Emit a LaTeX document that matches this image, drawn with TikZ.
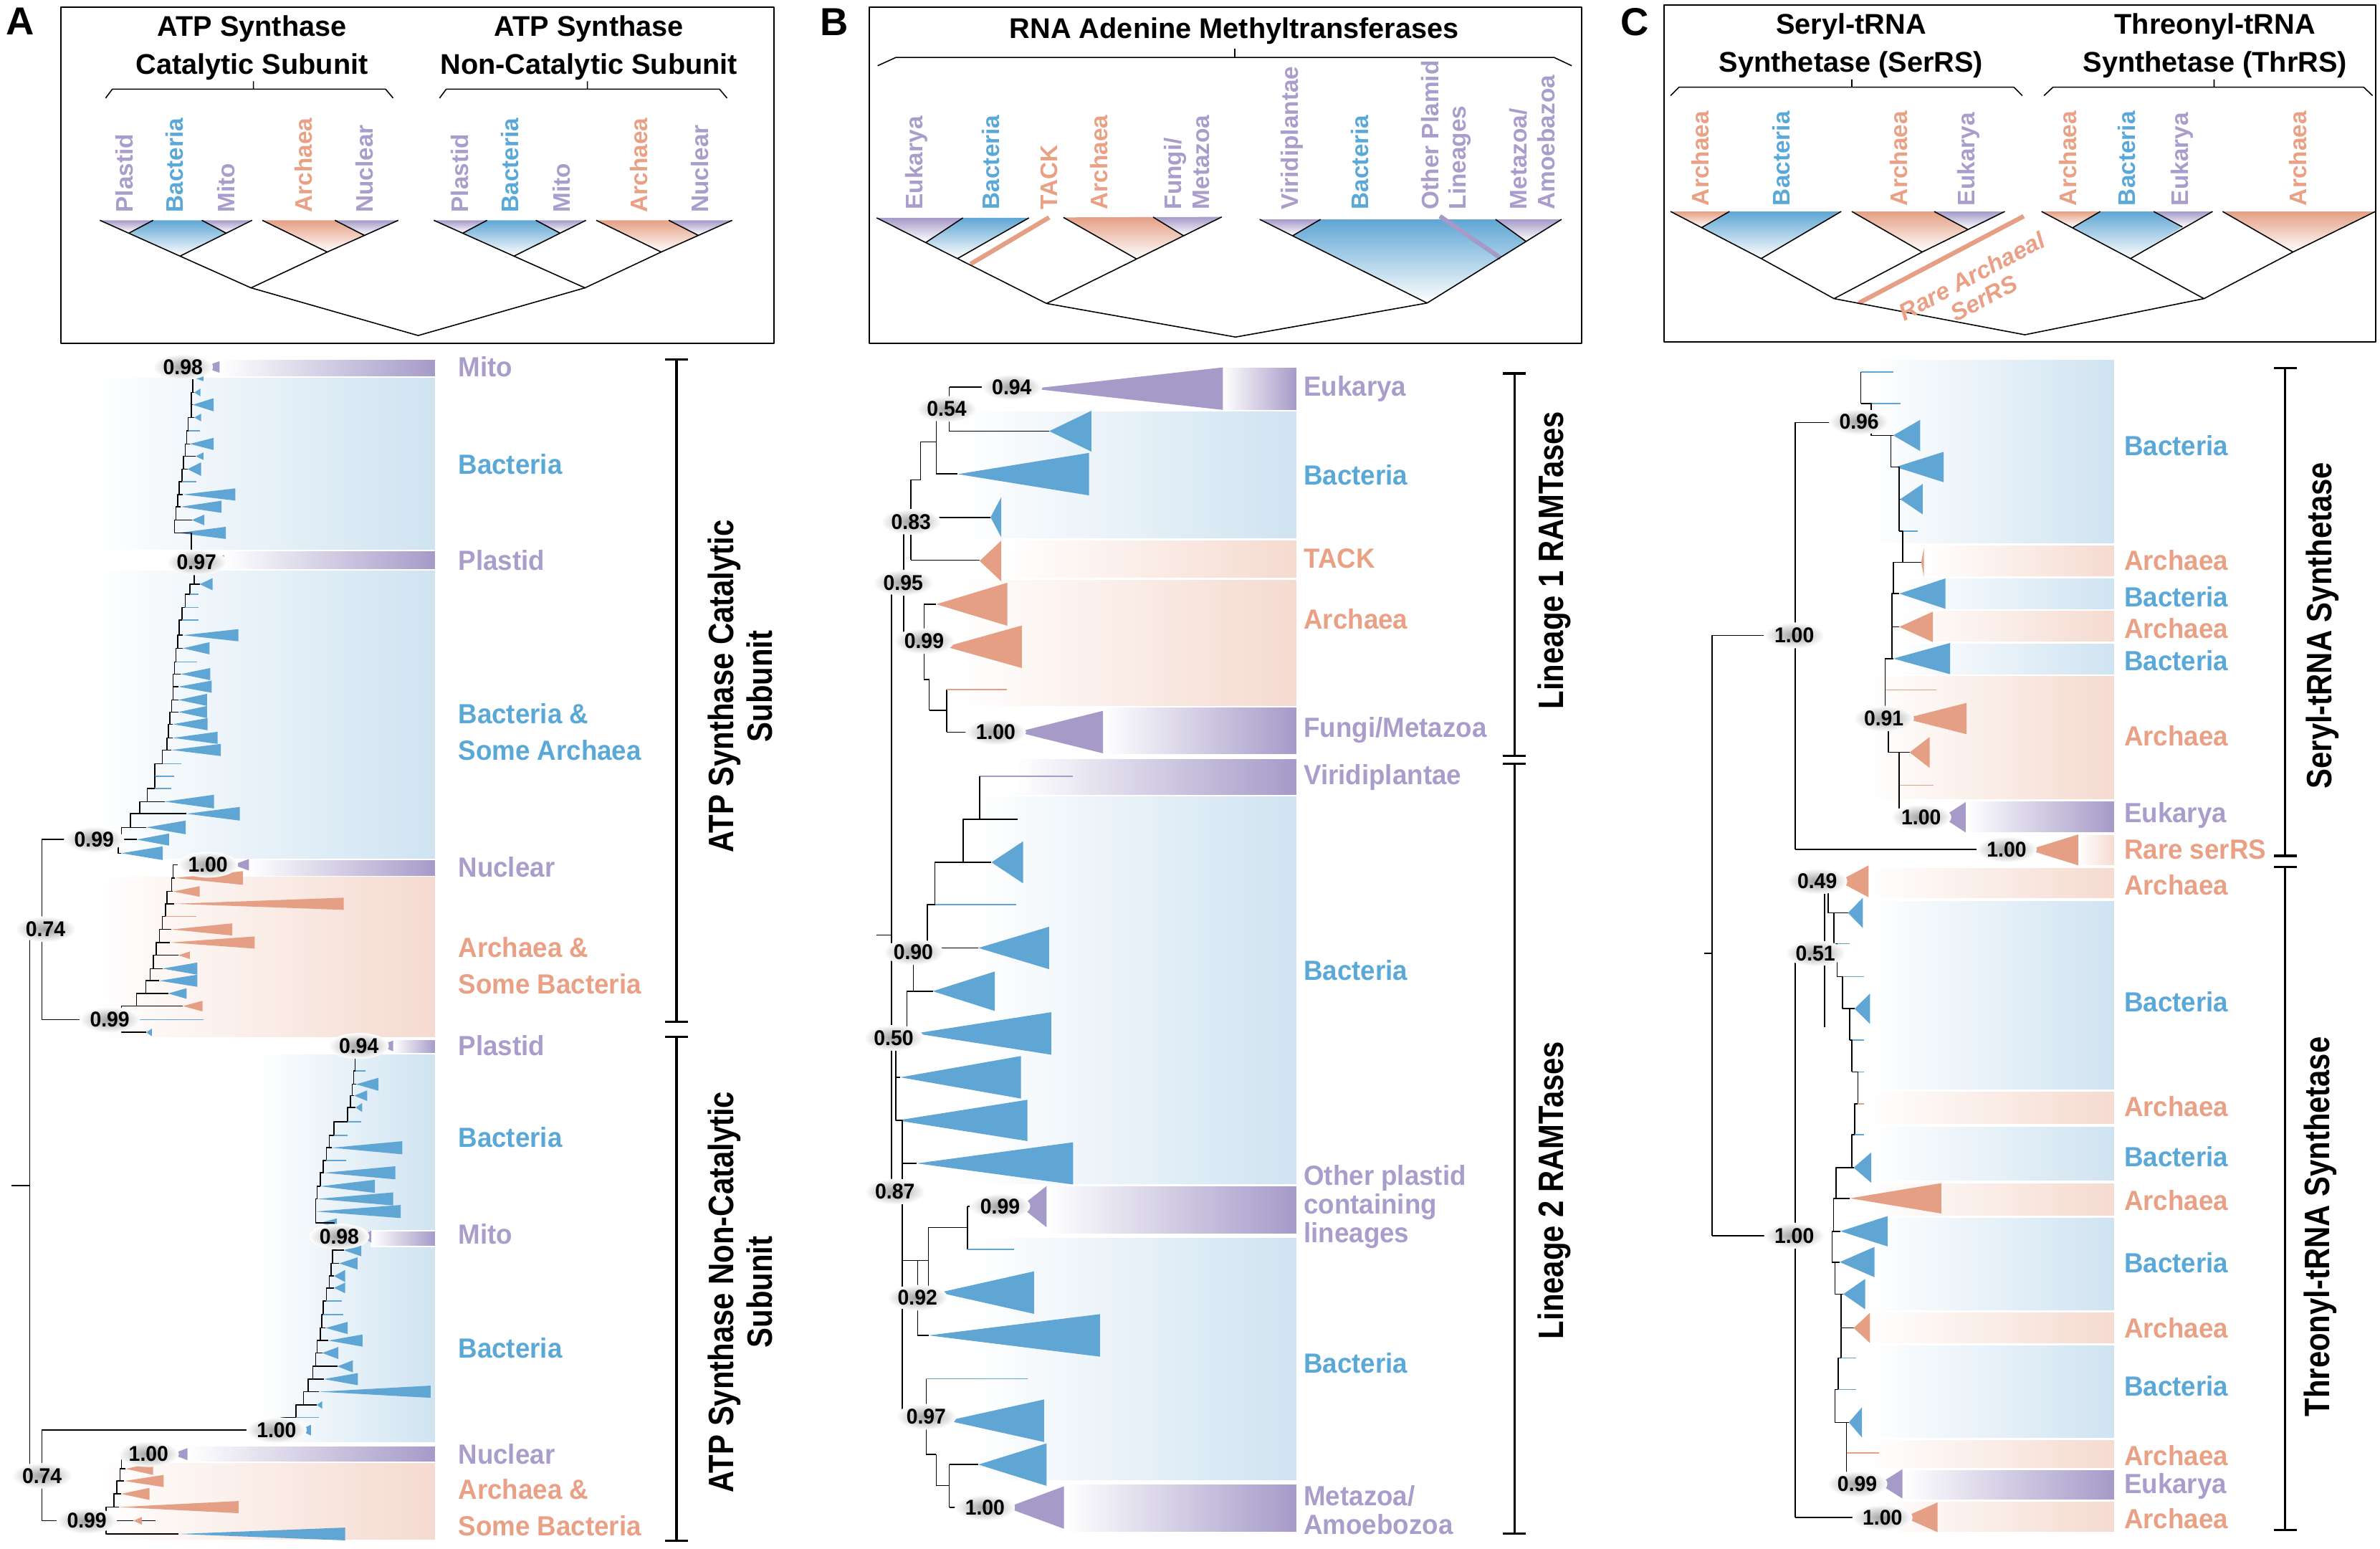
\documentclass[tikz,border=0pt]{standalone}
\usepackage{fontspec}
\setmainfont{Liberation Sans}
\newfontfamily\labfont[FakeStretch=0.95]{Liberation Sans}
\newfontfamily\titlefont[FakeStretch=0.85]{Liberation Sans}
\usetikzlibrary{shapes.geometric}
\definecolor{triB}{HTML}{5FA6D4}
\definecolor{triA}{HTML}{E59F84}
\definecolor{triP}{HTML}{A59AC8}
\definecolor{bandB}{HTML}{CFE3F1}
\definecolor{bandA}{HTML}{F5DACF}
\definecolor{txtB}{HTML}{5AA8D8}
\definecolor{txtA}{HTML}{E9A084}
\definecolor{txtP}{HTML}{A99DCC}
\begin{document}
\begin{tikzpicture}[x=0.02118cm, y=-0.02118cm, line join=round,
  br/.style={line width=0.45pt},
  brk/.style={line width=0.9pt},
  bs/.style={ellipse, inner sep=0.6pt, inner color=black!38, outer color=white, font=\labfont\bfseries\fontsize{8.5}{9}\selectfont},
  lab/.style={anchor=west, align=left, inner sep=1pt, font=\labfont\bfseries\fontsize{11}{14.4}\selectfont},
  labt/.style={lab, font=\labfont\bfseries\fontsize{11}{11.4}\selectfont},
  vlab/.style={rotate=90, anchor=west, align=left, inner sep=1pt, font=\bfseries\fontsize{9.5}{11}\selectfont},
  head/.style={align=center, font=\bfseries\fontsize{11.3}{15}\selectfont},
  ttl/.style={rotate=90, align=center, font=\titlefont\bfseries\fontsize{14}{15.3}\selectfont},
  panel/.style={font=\bfseries\fontsize{15.5}{16}\selectfont}]
\useasboundingbox (0,0) rectangle (1568,1020);

\node[panel] (pA) at (13.4,14.2) {A};
\node[panel] (pB) at (549.8,14.5) {B};
\node[panel] (pC) at (1077,14.5) {C};
\draw[line width=0.6pt] (40,4.7) rectangle (510,226) (572.6,4.7) rectangle (1042.2,226.3) (1096.5,3.5) rectangle (1565,225);

\node[head] (hA1) at (166,31.5) {ATP Synthase\\Catalytic Subunit};
\node[head] (hA2) at (388,31.5) {ATP Synthase\\Non-Catalytic Subunit};
\node[head] (hB) at (813.2,20.5) {RNA Adenine Methyltransferases};
\node[head] (hC1) at (1219.5,30) {Seryl-tRNA\\Synthetase (SerRS)};
\node[head] (hC2) at (1459.3,30) {Threonyl-tRNA\\Synthetase (ThrRS)};

\foreach \dx in {0,220}{
\begin{scope}[shift={(\dx,0)}]
  \shade[top color=triP, bottom color=white] (65.8,145.1) -- (100.9,145.1) -- (85.2,153.4) -- cycle;
  \shade[top color=triB, bottom color=white] (100.9,145.1) -- (133,145.1) -- (148.7,153.4) -- (118.6,168.7) -- (85.2,153.4) -- cycle;
  \shade[top color=triP, bottom color=white] (133,145.1) -- (166.1,145.1) -- (148.7,153.4) -- cycle;
  \shade[top color=triA, bottom color=white] (172.8,145.1) -- (220.6,145.1) -- (240,155) -- (215.6,166) -- cycle;
  \shade[top color=triP, bottom color=white] (220.6,145.1) -- (262.4,145.1) -- (240,155) -- cycle;
  \draw[br] (65.8,145.1) -- (118.6,168.7) -- (166.1,145.1) (100.9,145.1) -- (85.2,153.4) (133,145.1) -- (148.7,153.4)
    (172.8,145.1) -- (215.6,166) -- (262.4,145.1) (220.6,145.1) -- (240,155)
    (118.6,168.7) -- (165.4,189.6) -- (215.6,166);
  \draw[br] (69.6,64.6) -- (74,58.7) -- (254,58.7) -- (259,64.6) (167,53.5) -- (167,58.7);
\end{scope}}
\draw[br] (165.4,189.6) -- (275.5,221) -- (385.4,189.6);
\foreach \x/\t/\c [count=\i] in {82/Plastid/txtP, 115/Bacteria/txtB, 149/Mito/txtP, 200/Archaea/txtA, 240/Nuclear/txtP,
    303/Plastid/txtP, 336/Bacteria/txtB, 370/Mito/txtP, 421/Archaea/txtA, 461/Nuclear/txtP}
  \node[vlab, text=\c] (sA\i) at (\x,142) {\t};

\shade[top color=triP, bottom color=white] (577.6,143.5) -- (634.4,143.5) -- (610.3,159.5) -- cycle;
\shade[top color=triB, bottom color=white] (634.4,143.5) -- (677.9,143.5) -- (631,170.2) -- (610.3,159.5) -- cycle;
\shade[top color=triA, bottom color=white] (700.6,143.2) -- (759.7,143) -- (779.8,155.3) -- (748.7,170.5) -- cycle;
\shade[top color=triP, bottom color=white] (759.7,143) -- (804.9,142.9) -- (779.8,155.3) -- cycle;
\shade[top color=triP, bottom color=white] (829.9,144.5) -- (870,144.5) -- (851.6,155.3) -- cycle;
\shade[top color=triB, middle color=triB!60, bottom color=white] (870,144.5) -- (985.3,144.5) -- (1005.4,159) -- (940.2,199.6) -- (851.6,155.3) -- cycle;
\shade[top color=triP, bottom color=white] (985.3,144.5) -- (1028.8,144.5) -- (1005.4,159) -- cycle;
\draw[line width=1.8pt, triA] (691.2,143.2) -- (639.4,173.9);
\draw[line width=1.8pt, triP] (948.6,142.4) -- (988.7,170);
\draw[br] (577.6,143.5) -- (689.5,199.9) -- (804.9,142.9) (634.4,143.5) -- (610.3,159.5) (677.9,143.5) -- (631,170.2)
  (700.6,143.2) -- (748.7,170.5) (759.7,143) -- (779.8,155.3)
  (829.9,144.5) -- (940.2,199.6) -- (1028.8,144.5) (870,144.5) -- (851.6,155.3) (985.3,144.5) -- (1005.4,159)
  (689.5,199.9) -- (814,222) -- (940.2,199.6);
\draw[br] (578.2,43.3) -- (590.3,37.8) -- (1023.8,37.8) -- (1035.5,43.3) (813.5,32) -- (813.5,37.8);
\foreach \x/\t/\c [count=\i] in {603.6/Eukarya/txtP, 652.8/Bacteria/txtB, 691.2/TACK/txtA, 724/Archaea/txtA,
    851/Viridiplantae/txtP, 896/Bacteria/txtB}
  \node[vlab, text=\c] (sB\i) at (\x,140) {\t};
\node[vlab, text=txtP] (sBf) at (782,140) {Fungi/\\Metazoa};
\node[vlab, text=txtP] (sBo) at (952.8,140) {Other Plamid\\Lineages};
\node[vlab, text=txtP] (sBm) at (1009.6,140) {Metazoa/\\Amoebazoa};

\shade[top color=triA, bottom color=white] (1100.6,139.3) -- (1139.4,139.3) -- (1121.1,149.9) -- cycle;
\shade[top color=triB, bottom color=white] (1139.4,139.3) -- (1213,139.3) -- (1160.3,170.3) -- (1121.1,149.9) -- cycle;
\shade[top color=triA, bottom color=white] (1220,139.3) -- (1274.3,139.3) -- (1296.2,151) -- (1266.4,166) -- cycle;
\shade[top color=triP, bottom color=white] (1274.3,139.3) -- (1320.8,139.3) -- (1296.2,151) -- cycle;
\shade[top color=triA, bottom color=white] (1345,139.3) -- (1383.7,139.3) -- (1365.8,149.8) -- cycle;
\shade[top color=triB, bottom color=white] (1383.7,139.3) -- (1418.9,139.3) -- (1437.8,149.5) -- (1403.6,170.3) -- (1365.8,149.8) -- cycle;
\shade[top color=triP, bottom color=white] (1418.9,139.3) -- (1457.7,139.3) -- (1437.8,149.5) -- cycle;
\shade[top color=triA, bottom color=white] (1464.3,139.3) -- (1565,139.3) -- (1510.7,166) -- cycle;
\draw[line width=1.8pt, triA] (1333.3,142.4) -- (1224.6,199.6);
\draw[br] (1100.6,139.3) -- (1160.3,170.3) -- (1213,139.3) (1139.4,139.3) -- (1121.1,149.9)
  (1220,139.3) -- (1266.4,166) -- (1320.8,139.3) (1274.3,139.3) -- (1296.2,151)
  (1160.3,170.3) -- (1208.3,196.7) -- (1266.4,166)
  (1345,139.3) -- (1403.6,170.3) -- (1457.7,139.3) (1383.7,139.3) -- (1365.8,149.8) (1418.9,139.3) -- (1437.8,149.5)
  (1464.3,139.3) -- (1510.7,166) -- (1565,139.3)
  (1403.6,170.3) -- (1452,196.7) -- (1510.7,166)
  (1208.3,196.7) -- (1334,220.5) -- (1452,196.7);
\draw[br] (1100.6,63) -- (1106.2,57.4) -- (1326.7,57.4) -- (1332.4,63) (1220,52.3) -- (1220,57.4)
  (1346.6,63) -- (1352.6,57.4) -- (1557.2,57.4) -- (1563.1,63) (1458.7,52.3) -- (1458.7,57.4);
\foreach \x/\t/\c [count=\i] in {1120.2/Archaea/txtA, 1173.5/Bacteria/txtB, 1251.1/Archaea/txtA, 1296.9/Eukarya/txtP,
    1362.5/Archaea/txtA, 1401.3/Bacteria/txtB, 1437.8/Eukarya/txtP, 1514/Archaea/txtA}
  \node[vlab, text=\c] (sC\i) at (\x,137.5) {\t};
\node[rotate=28, align=center, text=txtA, font=\bfseries\itshape\fontsize{9.5}{10}\selectfont] (rare) at (1303,189) {Rare Archaeal\\SerRS};

\foreach \xa/\ya/\xb/\yb/\c in {144.6/236.8/287/248.2/triP, 60/248.2/287/362.6/bandB, 147.6/362.6/287/375.2/triP,
    60/375.2/287/566.2/bandB, 164/566.2/287/577.2/triP, 60/577.2/287/683.5/bandA, 259/684.5/287/694.2/triP,
    170/694.2/287/950.5/bandB, 244.6/810.5/287/821/triP, 123.5/952.5/287/963.2/triP, 60/963.2/287/1014.5/bandA,
    805.7/242/854.3/270.4/triP, 630/270.4/854.3/355/bandB, 660/355.8/854.3/380.8/bandA, 630/381.6/854.3/465.4/bandA,
    726.7/465.6/854.3/497/triP, 669/499.8/854.3/523.8/triP, 640/524.2/854.3/780.6/bandB, 689.5/780.8/854.3/813/triP,
    640/815.2/854.3/975.2/bandB, 701/977.6/854.3/1009.6/triP,
    1230/236.7/1393.3/358.3/bandB, 1267/358.8/1393.3/380.2/bandA, 1250/380.6/1393.3/401.6/bandB,
    1250/402/1393.3/423.2/bandA, 1250/423.6/1393.3/444.6/bandB, 1230/445/1393.3/527/bandA, 1295/527.6/1393.3/548.8/triP,
    1369.3/549.8/1393.3/570.4/bandA, 1230/571.2/1393.3/591.8/bandA, 1230/593/1393.3/718/bandB,
    1230/718.6/1393.3/740.8/bandA, 1230/741.6/1393.3/778/bandB, 1230/779.2/1393.3/801/bandA,
    1230/801.8/1393.3/863.6/bandB, 1230/864.2/1393.3/885/bandA, 1230/885.8/1393.3/947.6/bandB,
    1230/948.2/1393.3/967.4/bandA, 1253.4/967.8/1393.3/988/triP, 1230/988.8/1393.3/1009.6/bandA}
  \shadedraw[draw=white, line width=0.5pt, left color=white, right color=\c] (\xa,\ya) rectangle (\xb,\yb);

\foreach \px/\y/\ax/\bx/\h/\c [remember=\px as \lpx (initially 126), remember=\y as \ly (initially 241.7)] in {
    126/241.7/134/144.6/3.8/triP, 126/249/128/134/2/triB, 127/258.5/128/132/2.5/triB, 126/266.6/127/140.7/4.3/triB,
    126/275/128/132.5/2.5/triB, 124/283.7/124/131.6/0/triB, 123/292.4/125/140.7/4/triB, 122/300.5/129/134/2.5/triB,
    121/309/123.5/132.5/4.5/triB, 120/317.3/120/129.5/0/triB, 118/325.7/120.5/155/4/triB, 117/333.8/119/146/4/triB,
    116/342.5/126.5/134.6/3.5/triB, 115/351/117.5/148.8/4/triB, 126/369/140/147.6/3.5/triP, 128/384.8/131.6/140/4/triB,
    125/391.3/125/131/0/triB, 122/400.2/122/131/0/triB, 120/408.3/120/131/0/triB, 118/418.4/120.5/157/4/triB,
    117/427/120.5/138/4/triB, 116/436/116/130/0/triB, 115/444/119/138.5/4/triB, 114/452.3/117.5/139.5/4/triB,
    114/461/117.5/136.4/4/triB, 113/469/117.5/136.4/4/triB, 112/477/113.9/136.7/4/triB, 111/486/113.9/143.4/4/triB,
    110/494/113/145.5/4/triB, 107/503/107/119.6/0/triB, 102/511.3/102/114.5/0/triB, 102/519.4/102/113/0/triB,
    97/528/108.4/141/4.5/triB, 92/536/122.9/158/4.5/triB, 86/545/96.4/122.3/4.5/triB, 80/553/90/111.4/4/triB,
    78/562/80/107.2/4.5/triB}{
  \draw[br] (\lpx,\ly) -| (\px,\y) -- (\ax,\y);
  \ifdim\h pt>0pt\relax \fill[\c] (\ax,\y) -- (\bx,\y-\h) -- (\bx,\y+\h) -- cycle;
  \else \draw[br,\c] (\ax,\y) -- (\bx,\y); \fi}
\foreach \px/\y/\ax/\bx/\h/\c [remember=\px as \lpx (initially 120), remember=\y as \ly (initially 569.6)] in {
    120/569.6/153.6/164/3.8/triP, 114/578.3/115/160/4.5/triA, 113/587.2/114/131.6/3.5/triA, 110/595.3/114.5/226.5/4/triA,
    109/603.6/109/129.5/0/triA, 107/612.2/113/153/4/triA, 105/620.8/112/167.8/4/triA, 103/629.2/117.5/125/2.5/triA,
    101/638/107/130/4/triB, 99/646/105/130/4/triB, 96/654.4/110.8/122.9/3.5/triB, 90/662.7/120.5/133.4/3.5/triA,
    80/671.7/80/134/0/triB, 80/680/96.4/100/2.5/triB}{
  \draw[br] (\lpx,\ly) -| (\px,\y) -- (\ax,\y);
  \ifdim\h pt>0pt\relax \fill[\c] (\ax,\y) -- (\bx,\y-\h) -- (\bx,\y+\h) -- cycle;
  \else \draw[br,\c] (\ax,\y) -- (\bx,\y); \fi}
\foreach \px/\y/\ax/\bx/\h/\c [remember=\px as \lpx (initially 235), remember=\y as \ly (initially 688.9)] in {
    235/688.9/250/259/3.5/triP, 234/705.4/234/241/0/triB, 233/714.2/234.6/249.4/4.3/triB, 232/721.7/233.4/241.9/3.5/triB,
    231/729.5/234.3/238.6/3/triB, 229/739/229/238/0/triB, 220/748/220/229/0/triB, 217/756/218.4/265/4.3/triB,
    215/764.4/215/228/0/triB, 213/772.5/213.3/260.5/4.3/triB, 211/781.4/211/247/4.3/triB, 209/789.7/209/259/4.3/triB,
    208/798/208/264/4.3/triB, 208/805.5/211/222/3/triB, 220/814.5/238/244.6/4/triP, 220/823.5/226.5/238/4/triB,
    219/832.2/223.5/235.5/4/triB, 218/840.5/220/227.4/4/triB, 217/848.3/220/227.4/3.5/triB, 215/857/215/225/0/triB,
    213/866/213/226/0/triB, 212/874.7/214.5/229/4/triB, 211/883/216.3/238.9/4/triB, 209/891.2/212.3/222.9/4/triB,
    208/900/222.3/232.5/4/triB, 206/908.4/213.3/235.8/4/triB, 203/916.7/210.2/283.7/4/triB, 200/925.4/208.7/212.3/2.5/triB,
    195/933.7/195/210.2/0/triB, 185/942/197.3/204.8/3.5/triB}{
  \draw[br] (\lpx,\ly) -| (\px,\y) -- (\ax,\y);
  \ifdim\h pt>0pt\relax \fill[\c] (\ax,\y) -- (\bx,\y-\h) -- (\bx,\y+\h) -- cycle;
  \else \draw[br,\c] (\ax,\y) -- (\bx,\y); \fi}
\foreach \px/\y/\ax/\bx/\h/\c [remember=\px as \lpx (initially 82), remember=\y as \ly (initially 957.8)] in {
    82/957.8/113/123.5/4/triP, 80/967.5/82.8/100.9/4/triA, 79/975.5/81.9/107.8/4/triA, 77/984/79.8/98.5/4/triA,
    75/992.7/78.3/157.2/4/triA, 70/1001.7/88/93.4/2.5/triA, 70/1010.4/117.5/227.4/4.2/triB}{
  \draw[br] (\lpx,\ly) -| (\px,\y) -- (\ax,\y);
  \ifdim\h pt>0pt\relax \fill[\c] (\ax,\y) -- (\bx,\y-\h) -- (\bx,\y+\h) -- cycle;
  \else \draw[br,\c] (\ax,\y) -- (\bx,\y); \fi}
\draw[br] (7.5,781) -- (19.6,781) (27.7,612) -- (19.6,612) -- (19.6,972) -- (27.7,972)
  (80,553) -- (27.7,553) -- (27.7,671.7) -- (80,671.7)
  (185,942) -- (27.7,942) -- (27.7,1001.7) -- (70,1001.7) (93.4,1001.7) -- (102.4,1001.7);

\foreach \px/\y/\ax/\bx/\h/\c [remember=\px as \lpx (initially 645.4), remember=\y as \ly (initially 511.2)] in {
    645.4/511.2/645.4/706.7/0/triP, 645.4/539.6/645.4/670.3/0/black, 634.6/568/653.2/674/13.8/triB,
    616/595.7/616/669.5/0/triB, 611/624.4/644.6/691.2/14/triB, 601.7/652.9/614.5/655.4/13/triB,
    597.4/680.7/603.1/692.6/14/triB, 590.2/709.6/593.1/672.6/14/triB, 590.2/738/591.1/676.9/13.6/triB,
    594.5/766.3/604/707/13.9/triB}{
  \draw[br] (\lpx,\ly) -| (\px,\y) -- (\ax,\y);
  \ifdim\h pt>0pt\relax \fill[\c] (\ax,\y) -- (\bx,\y-\h) -- (\bx,\y+\h) -- cycle;
  \else \draw[br,\c] (\ax,\y) -- (\bx,\y); \fi}
\foreach \xa/\ya/\xb/\yb in {625.4/255/680.3/255, 625.4/255/625.4/284, 625.4/284/691.2/284, 616.8/269.4/625.4/269.4,
    616.8/269.4/616.8/312.2, 616.8/312.2/631/312.2, 606.5/291/616.8/291, 606.5/291/606.5/316, 600.2/316/606.5/316,
    600.2/316/600.2/368.9, 600.2/341/652.6/341, 600.2/368.9/645.4/368.9, 595.4/343/600.2/343, 595.4/343/595.4/417.7,
    595.4/417.7/608.8/417.7, 608.8/397.9/608.8/447.5, 608.8/397.9/616.8/397.9, 608.8/426/623.1/426,
    608.8/447.5/612.2/447.5, 612.2/447.5/612.2/467.8, 612.2/467.8/623.7/467.8, 623.7/454.2/623.7/482.2,
    623.7/482.2/670.3/482.2, 587.3/390.6/595.4/390.6, 587.3/390.6/587.3/780, 577.3/616/587.3/616, 587.3/780/594.5/780,
    594.5/766.3/594.5/933, 594.5/830.2/611.7/830.2, 604.5/830.2/604.5/879.6, 611.7/808.5/611.7/851.4,
    611.7/808.5/637.4/808.5, 637.4/794.5/637.4/823, 637.4/794.5/672.3/794.5, 611.7/851.4/618.8/851.4,
    604.5/879.6/611.7/879.6, 594.5/933/610.2/933, 610.2/908.1/610.2/958, 610.2/935.8/624.5/935.8,
    610.2/958/616.8/958, 616.8/958/616.8/978.5, 616.8/978.5/625.4/978.5, 625.4/964.7/625.4/993,
    625.4/964.7/644.6/964.7, 625.4/993/663.2/993,
    1128/418.5/1128/813.9, 1122.8/627.9/1128/627.9, 1128/418.5/1182.7/418.5, 1128/813.9/1182.7/813.9,
    1182.7/278.3/1182.7/559.5, 1182.7/278.3/1226/278.3, 1182.7/559.5/1336.4/559.5,
    1182.7/627.9/1182.7/999.6, 1182.7/627.9/1202.1/627.9, 1202.1/580.5/1202.1/676.5, 1182.7/999.6/1254.4/999.6}
  \draw[br] (\xa,\ya) -- (\xb,\yb);
\draw[br,triA] (623.7,454.2) -- (663.2,454.2);
\draw[br,triB] (637.4,823) -- (668,823) (610.2,908.1) -- (676.9,908.1);
\foreach \ax/\y/\bx/\h/\c in {680.3/256/805.7/14/triP, 691.2/284/719/13.4/triB, 631/312.3/717.5/14/triB,
    652.6/340.7/659.7/13.3/triB, 645.4/369.5/659.7/13.5/triA, 616.8/398/663.7/14.2/triA, 623.1/426/673.2/14/triA,
    670.3/482.2/726.7/14/triP, 672.3/794.8/689.5/13.6/triP, 618.8/851.4/681.2/14/triB, 611.7/879.6/724.7/14/triB,
    624.5/935.8/687.8/14/triB, 644.6/964.7/689.5/14/triB, 663.2/993/701/14/triP,
    1336.4/559.8/1369.3/10.2/triA, 1254.4/999.4/1276.5/9.8/triA}
  \fill[\c] (\ax,\y) -- (\bx,\y-\h) -- (\bx,\y+\h) -- cycle;

\foreach \px/\y/\ax/\bx/\h/\c [remember=\px as \lpx (initially 1226), remember=\y as \ly (initially 244.9)] in {
    1226/244.9/1226/1247.3/0/triB, 1226/265.8/1226/1252/0/triB, 1232.8/286.8/1247.3/1265.1/10.3/triB,
    1245.8/307.6/1248.9/1280.5/10/triB, 1251.3/328.8/1251.9/1266.7/10/triB, 1251.3/349.9/1251.3/1263.6/0/triB,
    1253.5/370.4/1265.7/1267.5/9.5/triA, 1247.3/391/1251.3/1281.7/10/triB, 1246.4/412.9/1251.3/1273.4/10/triA,
    1246.4/433.8/1247.3/1284.8/10.3/triB, 1242/454.5/1242/1275.6/0/triA, 1242/473.3/1255/1295.6/10.3/triA,
    1244.2/495.6/1258.1/1271.3/10.2/triA, 1251.3/517.2/1251.3/1274/0/triA, 1251.3/538.3/1279.6/1295/10/triP}{
  \draw[br] (\lpx,\ly) -| (\px,\y) -- (\ax,\y);
  \ifdim\h pt>0pt\relax \fill[\c] (\ax,\y) -- (\bx,\y-\h) -- (\bx,\y+\h) -- cycle;
  \else \draw[br,\c] (\ax,\y) -- (\bx,\y); \fi}
\foreach \px/\y/\ax/\bx/\h/\c [remember=\px as \lpx (initially 1202.1), remember=\y as \ly (initially 580.5)] in {
    1202.1/580.5/1211.3/1231/10.5/triA, 1204.3/601.3/1217.5/1227.3/10/triB, 1208.2/621.6/1208.2/1218.7/0/triB,
    1210.4/643.3/1210.4/1228/0/triB, 1214/664.4/1221.8/1232/10/triB, 1218.7/685.2/1218.7/1228/0/triB,
    1220/706/1220/1228/0/triB, 1224/727.1/1224/1228/0/triA, 1222/747.4/1222/1228/0/triB,
    1220/769.1/1221.2/1232.8/10/triB, 1209.5/789.3/1218.7/1279/10/triA, 1208/811/1212.5/1243.6/10/triB,
    1207/831.3/1212/1235/10/triB, 1209/852.4/1214.4/1228.8/10/triB, 1213/874.7/1221.2/1232/10/triA,
    1213/894.4/1213/1222.7/0/triB, 1211/915.2/1211/1222.7/0/triB, 1209/936.9/1218.1/1226.7/10/triB,
    1216.5/957.1/1216.5/1238/0/triA, 1216.5/977.4/1238/1253.4/9.7/triP}{
  \draw[br] (\lpx,\ly) -| (\px,\y) -- (\ax,\y);
  \ifdim\h pt>0pt\relax \fill[\c] (\ax,\y) -- (\bx,\y-\h) -- (\bx,\y+\h) -- cycle;
  \else \draw[br,\c] (\ax,\y) -- (\bx,\y); \fi}

\foreach \x/\y/\v [count=\i] in {120.5/241.7/0.98, 129.5/370.4/0.97, 62/553/0.99, 137/569.6/1.00, 30/612/0.74,
    72.3/671.7/0.99, 236.4/688.9/0.94, 223.5/814.5/0.98, 182.2/942/1.00, 97.9/957.8/1.00, 27.7/972/0.74,
    57.2/1001.7/0.99, 666.6/255/0.94, 623.7/269.4/0.54, 600.2/343.7/0.83, 595/383.8/0.95, 608.8/422.3/0.99,
    656/482.2/1.00, 601.7/627.1/0.90, 588.8/683.6/0.50, 589.6/784.9/0.87, 658.9/794.5/0.99, 604.5/854.8/0.92,
    610.2/933.2/0.97, 648.9/993/1.00, 1224.8/277.8/0.96, 1182.1/418.5/1.00, 1241.1/473.3/0.91, 1265.7/538.3/1.00,
    1322/559.5/1.00, 1197.2/580.5/0.49, 1196/627.9/0.51, 1182.1/813.9/1.00, 1223.6/977.4/0.99, 1240.2/999.6/1.00}
  \node[bs] (bs\i) at (\x,\y) {\v};

\foreach \y/\t/\c [count=\i] in {241.7/Mito/txtP, 306/Bacteria/txtB, 369/Plastid/txtP, 571/Nuclear/txtP,
    688.5/Plastid/txtP, 749/Bacteria/txtB, 813/Mito/txtP, 888/Bacteria/txtB, 958/Nuclear/txtP}
  \node[lab, text=\c] (lA\i) at (300,\y) {\t};
\node[lab, text=txtB] (lAba) at (300,482) {Bacteria \&\\Some Archaea};
\node[lab, text=txtA] (lAab1) at (300,636) {Archaea \&\\Some Bacteria};
\node[lab, text=txtA] (lAab2) at (300,993) {Archaea \&\\Some Bacteria};
\foreach \y/\t/\c [count=\i] in {256/Eukarya/txtP, 313/Bacteria/txtB, 368/TACK/txtA, 408/Archaea/txtA,
    512/Viridiplantae/txtP, 639/Bacteria/txtB, 898/Bacteria/txtB}
  \node[lab, text=\c] (lB\i) at (857,\y) {\t};
\node[lab, text=txtP] (lBfm) at (857,481) {Fungi/Metazoa};
\node[labt, text=txtP] (lBop) at (857,795) {Other plastid\\containing\\lineages};
\node[labt, text=txtP] (lBma) at (857,994.5) {Metazoa/\\Amoebozoa};
\foreach \y/\t/\c [count=\i] in {293.5/Bacteria/txtB, 369/Archaea/txtA, 393/Bacteria/txtB, 414/Archaea/txtA,
    435/Bacteria/txtB, 484.5/Archaea/txtA, 537/Eukarya/txtP, 559.5/Rare serRS/txtA, 583/Archaea/txtA,
    659.7/Bacteria/txtB, 729/Archaea/txtA, 761.9/Bacteria/txtB, 790.8/Archaea/txtA, 831.9/Bacteria/txtB,
    874.7/Archaea/txtA, 912.9/Bacteria/txtB, 958.6/Archaea/txtA, 978.8/Eukarya/txtP, 1000.5/Archaea/txtA}
  \node[lab, text=\c] (lC\i) at (1397.5,\y) {\t};

\foreach \bx/\ya/\yb in {445.7/236.7/673, 445.7/683/1015, 997.7/246/498, 997.7/503/1010, 1505.5/242.6/563.7, 1505.5/571.2/1007.7}
  \draw[brk] (\bx-7.5,\ya) -- (\bx+7.5,\ya) (\bx,\ya) -- (\bx,\yb) (\bx-7.5,\yb) -- (\bx+7.5,\yb);
\node[ttl] (tA1) at (487.5,452) {ATP Synthase Catalytic\\Subunit};
\node[ttl] (tA2) at (487.5,851) {ATP Synthase Non-Catalytic\\Subunit};
\node[ttl] (tB1) at (1024,369) {Lineage 1 RAMTases};
\node[ttl] (tB2) at (1024,784) {Lineage 2 RAMTases};
\node[ttl] (tC1) at (1530,412) {Seryl-tRNA Synthetase};
\node[ttl] (tC2) at (1528.6,808) {Threonyl-tRNA Synthetase};
\end{tikzpicture}
\end{document}
